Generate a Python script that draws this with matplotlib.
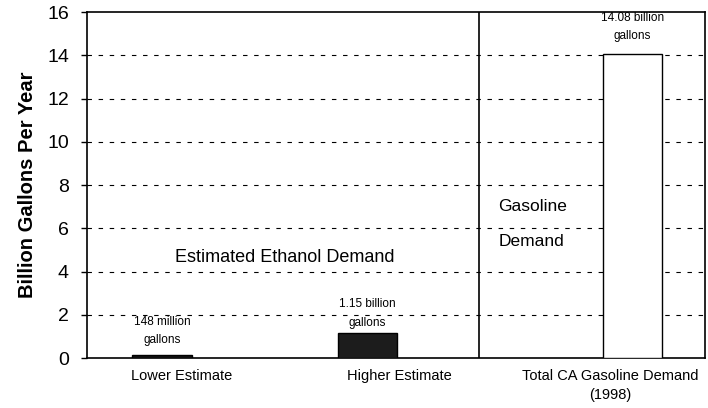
import matplotlib
matplotlib.use("Agg")
import matplotlib.pyplot as plt

plt.rcParams['font.family'] = ['Liberation Sans', 'DejaVu Sans']

# data
categories = ["Lower Estimate", "Higher Estimate", "Total CA Gasoline Demand\n(1998)"]
values = [0.148, 1.15, 14.08]
bar_labels = ["148 million\ngallons", "1.15 billion\ngallons", "14.08 billion\ngallons"]
bar_colors = ["#111111", "#1c1c1c", "white"]
yticks = [0, 2, 4, 6, 8, 10, 12, 14, 16]

# layout (x in "slot" units, axis spans 0..3)
bar_x = [0.364, 1.362, 2.648]
label_x = [0.461, 1.517, 2.54]
divider_x = 1.903

fig = plt.figure(figsize=(7.08, 4.08), dpi=100)
ax = fig.add_axes([0.1229, 0.1225, 0.8729, 0.848])

for y in yticks[1:-1]:
    ax.axhline(y, color='black', lw=0.8, dashes=(4, 6), zorder=1)

ax.bar(bar_x, values, width=0.29, color=bar_colors, edgecolor='black',
       linewidth=1.0, zorder=3)

ax.axvline(divider_x, color='black', lw=1.2, zorder=2)

label_y = [1.25, 2.06, 15.3]
for x, y, t in zip(bar_x, label_y, bar_labels):
    ax.text(x, y, t, ha='center', va='center', fontsize=8.5, linespacing=1.7)

ax.text(0.961, 4.63, "Estimated Ethanol Demand", ha='center', va='center', fontsize=13)
ax.text(1.995, 6.99, "Gasoline", ha='left', va='center', fontsize=12.5)
ax.text(2.0, 5.37, "Demand", ha='left', va='center', fontsize=12.5)

ax.set_xlim(0, 3)
ax.set_ylim(0, 16)
ax.set_yticks(yticks)
ax.set_yticklabels([str(v) for v in yticks], fontsize=14)
ax.set_xticks(label_x)
ax.set_xticklabels(categories, fontsize=10.5, linespacing=1.4)
ax.tick_params(axis='x', length=0, pad=8)
ax.tick_params(axis='y', length=4, width=1, pad=9, direction='out')
ax.set_ylabel("Billion Gallons Per Year", fontsize=14.5, fontweight='bold', labelpad=7)

for s in ax.spines.values():
    s.set_color('black')
    s.set_linewidth(1.2)

fig.savefig("out.png", dpi=100)
